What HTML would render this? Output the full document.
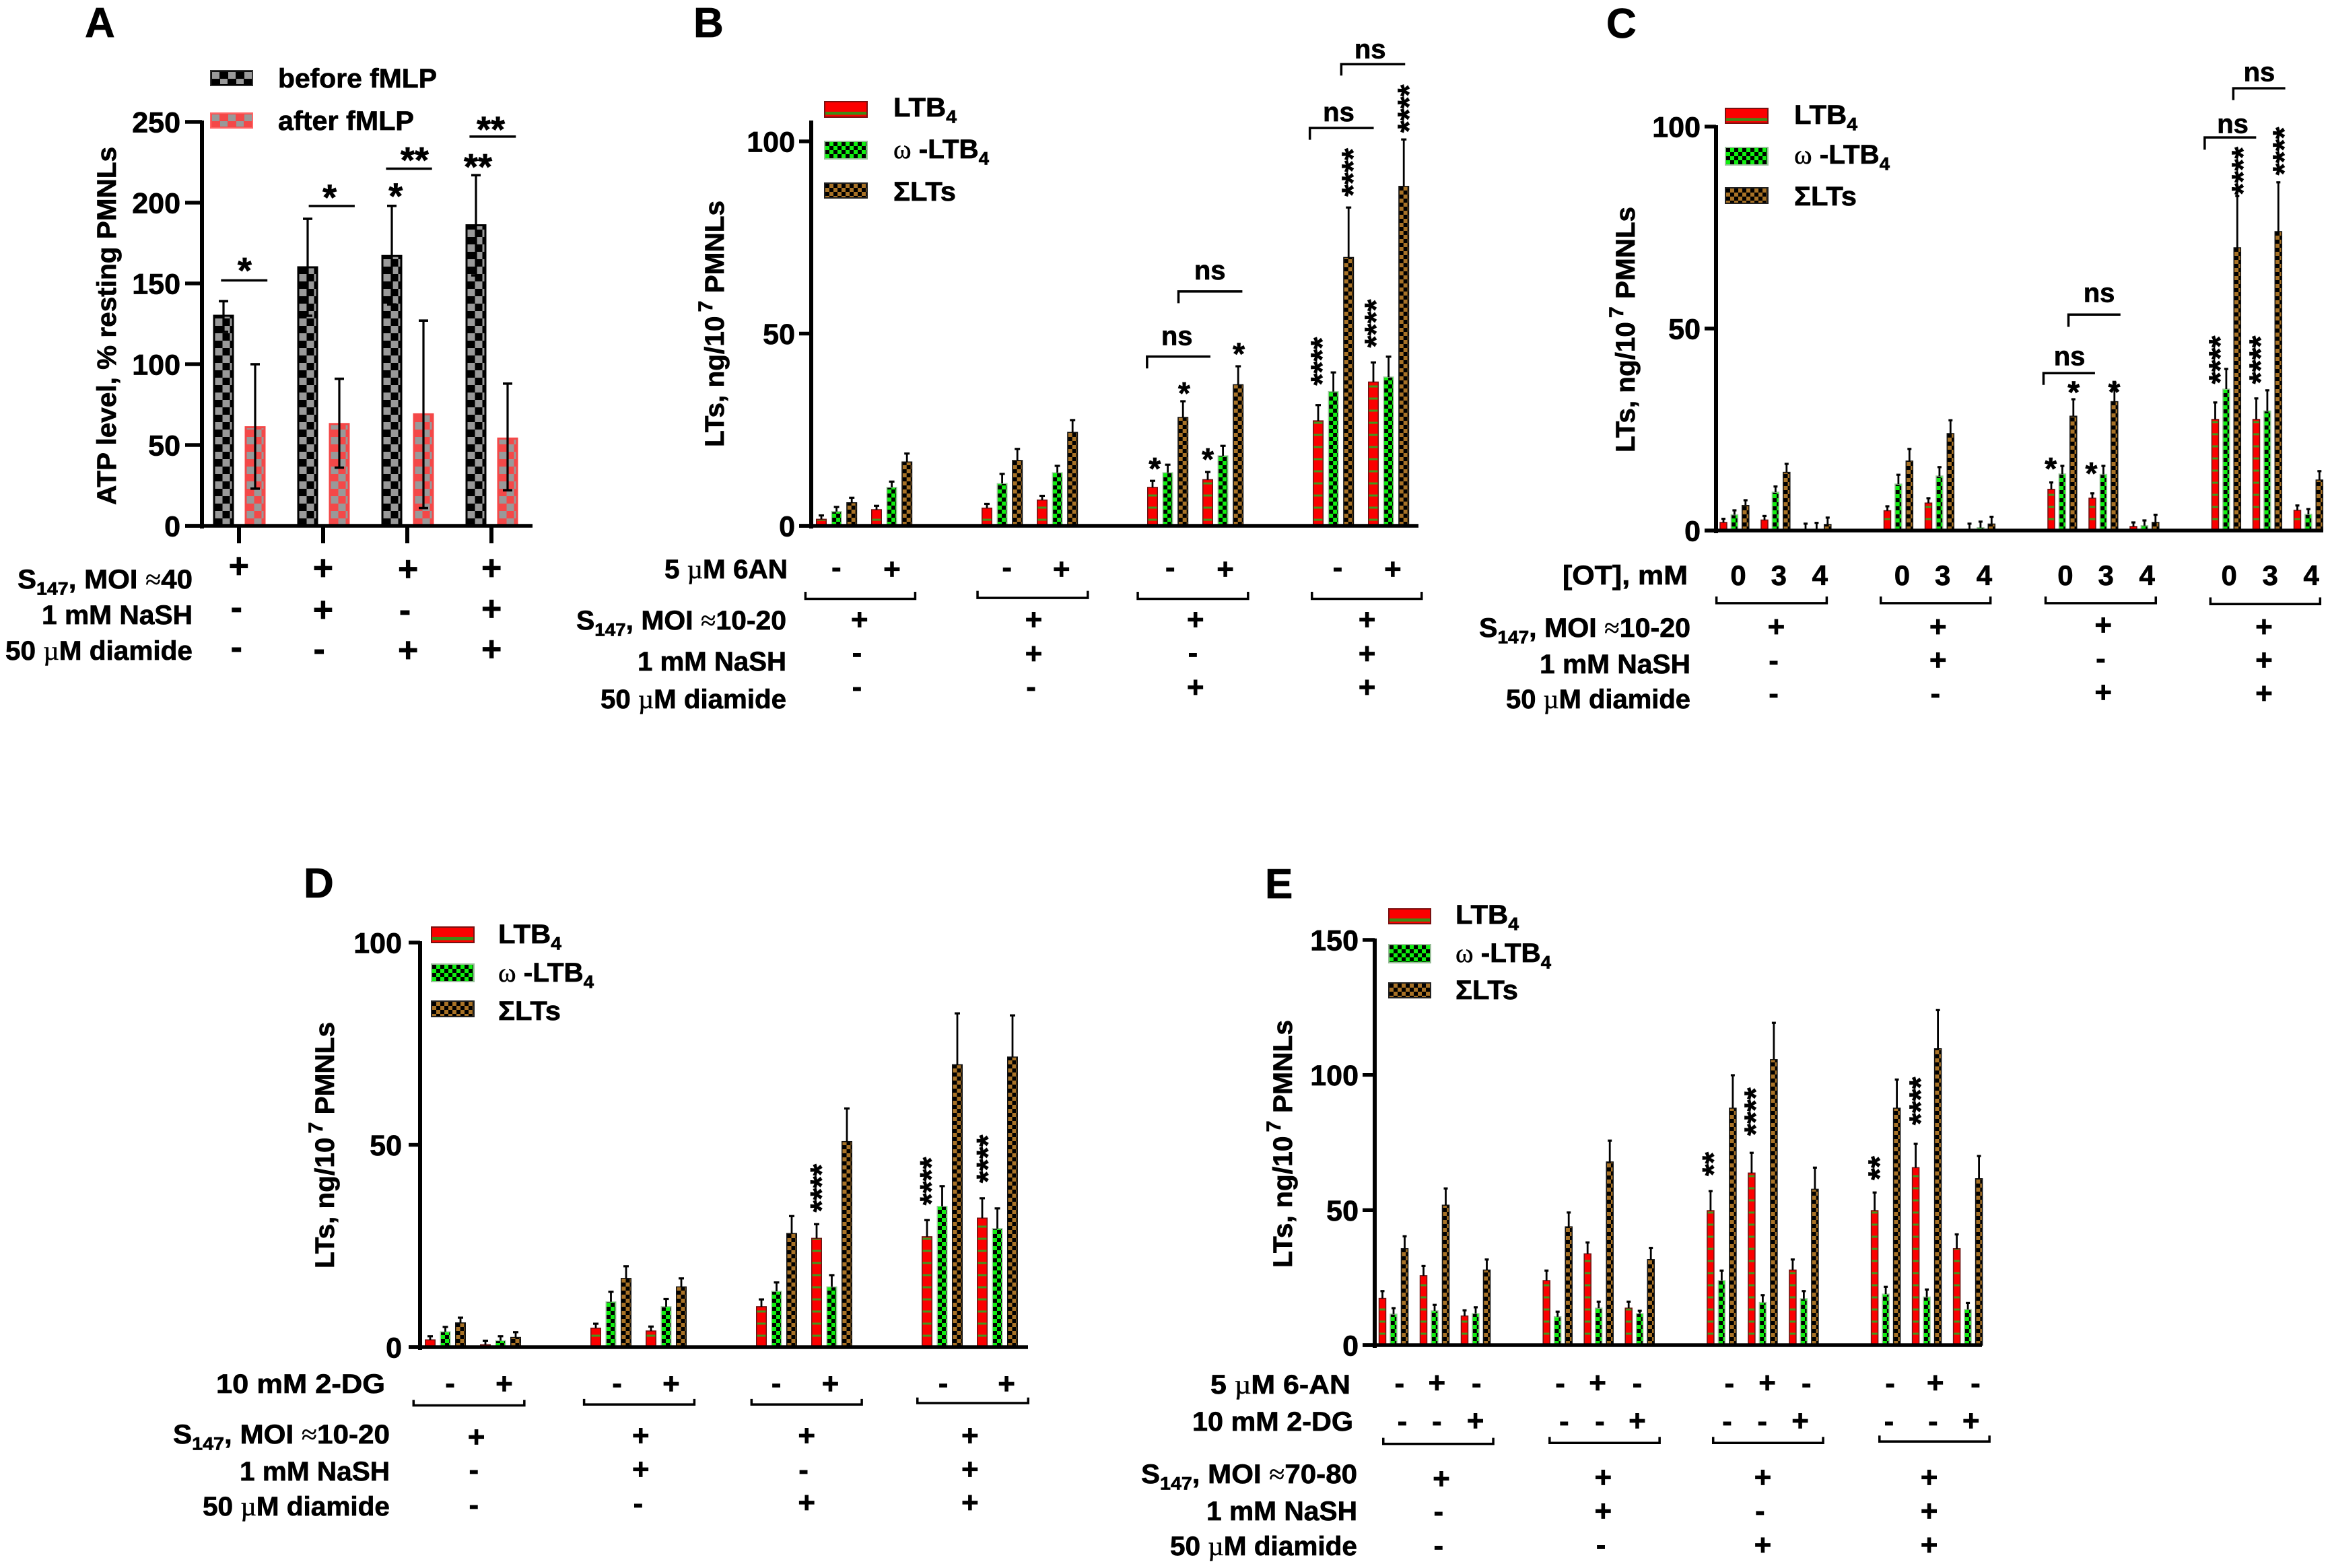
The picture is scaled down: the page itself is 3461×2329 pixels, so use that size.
<!DOCTYPE html>
<html lang="en">
<head>
<meta charset="utf-8">
<title>Leukotriene and ATP levels in PMNLs</title>
<style>
html,body{margin:0;padding:0;background:#fff;}
svg{display:block;}
text{font-family:"Liberation Sans",Arial,sans-serif;font-weight:bold;fill:#000;stroke:#000;stroke-width:0.7px;}
</style>
</head>
<body>
<svg id="figure" xmlns="http://www.w3.org/2000/svg" width="3461" height="2329" viewBox="0 0 3461 2329">
<defs id="figure-defs">
<pattern id="p-before" patternUnits="userSpaceOnUse" width="22" height="22"><rect width="22" height="22" fill="#000"/><rect width="11" height="11" fill="#999"/><rect x="11" y="11" width="11" height="11" fill="#999"/></pattern>
<pattern id="p-after" patternUnits="userSpaceOnUse" width="22" height="22"><rect width="22" height="22" fill="#f44848"/><rect width="11" height="11" fill="#999"/><rect x="11" y="11" width="11" height="11" fill="#999"/></pattern>
<pattern id="l-before" patternUnits="userSpaceOnUse" width="24" height="21" x="315" y="107"><rect width="24" height="21" fill="#000"/><rect width="11" height="10" fill="#999"/><rect x="12" y="10" width="11" height="8" fill="#999"/></pattern>
<pattern id="l-after" patternUnits="userSpaceOnUse" width="24" height="21" x="315" y="170"><rect width="24" height="21" fill="#f44848"/><rect width="11" height="10" fill="#999"/><rect x="12" y="10" width="11" height="8" fill="#999"/></pattern>
<pattern id="p-ltb" patternUnits="userSpaceOnUse" width="18" height="18"><rect width="18" height="18" fill="#fb0000"/><rect y="10" width="18" height="3" fill="#3f9a1c"/></pattern>
<pattern id="p-omega" patternUnits="userSpaceOnUse" width="12" height="12"><rect width="12" height="12" fill="#10f010"/><rect width="6" height="6" fill="#000"/><rect x="6" y="6" width="6" height="6" fill="#000"/></pattern>
<pattern id="p-sum" patternUnits="userSpaceOnUse" width="12" height="12"><rect width="12" height="12" fill="#a87226"/><rect width="6" height="6" fill="#000"/><rect x="6" y="6" width="6" height="6" fill="#000"/></pattern>
</defs>
<rect width="3461" height="2329" fill="#fff"/>
</svg>
<script>
/* ---------- chart data ---------- */
const groupCategories = ['S147', 'S147 + NaSH', 'S147 + diamide', 'S147 + NaSH + diamide'];

const panelATicks = [0, 50, 100, 150, 200, 250];
const panelABefore = [130, 160, 167, 186];
const panelABeforeUpper = [139, 190, 198, 217];
const panelABeforeLower = [120, 130, 137, 155];
const panelAAfter = [61, 63, 69, 54];
const panelAAfterUpper = [100, 91, 127, 88];
const panelAAfterLower = [23, 36, 11, 22];

const panelBTicks = [0, 50, 100];
const panelBLtb = [1.7, 4.2, 4.6, 6.7, 10, 12, 27.3, 37.4];
const panelBOmega = [3.7, 10, 11, 13.8, 13.8, 18.2, 34.9, 38.7];
const panelBSum = [6, 16.6, 17, 24.3, 28.2, 36.7, 69.8, 88.3];
const panelBLtbUpper = [2.7, 5.2, 5.7, 7.8, 11.7, 14, 31.4, 42.5];
const panelBOmegaUpper = [4.9, 11.5, 13.5, 15.6, 15.9, 20.8, 39.9, 44];
const panelBSumUpper = [7.3, 18.8, 20, 27.5, 32.4, 41.5, 82.8, 100.5];

const panelCTicks = [0, 50, 100];
const panelCLtb = [2, 2.6, 0.2, 4.9, 6.8, 0.2, 10.2, 8, 1, 27.5, 27.5, 5];
const panelCOmega = [3.9, 9.5, 0.3, 11.5, 13.5, 0.7, 14, 13.9, 1.2, 35, 29.6, 4];
const panelCSum = [6.2, 14.4, 1.5, 17.2, 24, 1.6, 28.3, 31.9, 2, 70, 74, 12.5];
const panelCLtbUpper = [2.9, 3.6, 1.7, 6, 8, 1.7, 11.9, 9.2, 2, 31.7, 32.7, 6.2];
const panelCOmegaUpper = [5, 10.9, 1.9, 13.8, 15.7, 2.2, 16, 16, 2.5, 40, 34.7, 5.3];
const panelCSumUpper = [7.5, 16.5, 3.2, 20.2, 27.3, 3.4, 32.5, 36.6, 3.9, 82.8, 86.2, 14.7];

const panelDTicks = [0, 50, 100];
const panelDLtb = [1.8, 0.6, 4.7, 4, 10, 26.9, 27.3, 31.9];
const panelDOmega = [3.8, 1.6, 11.2, 10, 13.8, 14.9, 34.8, 29.3];
const panelDSum = [6, 2.4, 17, 14.9, 28.1, 50.8, 69.8, 71.7];
const panelDLtbUpper = [2.7, 1.6, 5.8, 5.1, 11.8, 30.4, 31.4, 36.8];
const panelDOmegaUpper = [5, 2.7, 13.7, 11.9, 16, 17.8, 39.8, 34.3];
const panelDSumUpper = [7.3, 3.7, 20, 17, 32.4, 59, 82.5, 82];

const panelETicks = [0, 50, 100, 150];
const panelELtb = [17.3, 25.7, 10.8, 23.9, 33.8, 13.7, 49.8, 63.7, 27.8, 49.8, 65.7, 35.7];
const panelEOmega = [11.5, 12.7, 11.7, 10.5, 13.7, 11.7, 23.9, 15.8, 17.2, 18.9, 17.8, 13.2];
const panelESum = [35.7, 51.8, 27.8, 43.8, 67.8, 31.7, 87.7, 105.7, 57.7, 87.7, 109.7, 61.6];
const panelELtbUpper = [20, 29.3, 12.9, 27.6, 38, 16.1, 57, 71.2, 31.7, 56.5, 74.5, 41];
const panelEOmegaUpper = [13.7, 14.9, 14, 12.4, 16.1, 12.7, 27.6, 18.5, 20, 21.6, 20.6, 15.6];
const panelESumUpper = [40.3, 58, 31.7, 49.1, 75.7, 36, 99.9, 119.3, 65.7, 98.3, 124, 70];

/* ---------- helpers ---------- */
const svg = document.getElementById('figure');
const defs = document.getElementById('figure-defs');
const NS = 'http://www.w3.org/2000/svg';
let patternCount = 0;

function node(tag, attrs) {
  const el = document.createElementNS(NS, tag);
  for (const k in attrs) el.setAttribute(k, attrs[k]);
  svg.appendChild(el);
  return el;
}
function anchoredFill(baseId, x, y) {
  const clone = document.getElementById(baseId).cloneNode(true);
  patternCount += 1;
  const id = baseId + '-' + patternCount;
  clone.setAttribute('id', id);
  clone.setAttribute('x', x);
  clone.setAttribute('y', y);
  defs.appendChild(clone);
  return 'url(#' + id + ')';
}
function frame(x0, y0, w, h) {
  return { X: v => x0 + v * w / 1568, Y: v => y0 + v * h / 1568 };
}
function segments(el, segs, fs) {
  let shift = 0;
  segs.forEach(s => {
    const str = typeof s === 'string' ? s : s[0];
    const kind = typeof s === 'string' ? '' : s[1];
    const t = document.createElementNS(NS, 'tspan');
    let target = 0;
    if (kind === 'sub') { target = fs * 0.24; t.setAttribute('font-size', fs * 0.68); }
    if (kind === 'sup') { target = -fs * 0.42; t.setAttribute('font-size', fs * 0.75); t.setAttribute('dx', 6); }
    if (kind === 'serif') { t.setAttribute('style', 'font-family:"Liberation Serif",serif;font-weight:normal;stroke-width:0.5px'); }
    if (target !== shift) { t.setAttribute('dy', target - shift); shift = target; }
    t.textContent = str;
    el.appendChild(t);
  });
}
const mu = ['\u00b5', 'serif'];
const approx = ['\u2248', 'serif'];
const rowMoi = r => ['S', ['147', 'sub'], ', MOI ', approx, r];
const rowNash = ['1 mM NaSH'];
const rowDiamide = ['50 ', mu, 'M diamide'];

function rowLabel(segs, left, right, base, fs) {
  const t = node('text', { x: left, y: base, 'font-size': fs || 40, textLength: right - left, lengthAdjust: 'spacingAndGlyphs' });
  
  
  segments(t, segs, fs || 40);
}
function sign(f, ch, zx, zy, scale) {
  const fs = (ch === '+' ? 44 : 44) * (scale || 1);
  const off = ch === '+' ? 0.335 : 0.27;
  const t = node('text', { x: f.X(zx), y: f.Y(zy) + fs * off, 'font-size': fs, 'text-anchor': 'middle' });
  
  
  t.textContent = ch;
}
function signRow(f, entries, scale) {
  entries.forEach(e => sign(f, e[0], e[1], e[2], scale));
}
function digit(f, ch, zx, zy) {
  const t = node('text', { x: f.X(zx), y: f.Y(zy) + 15, 'font-size': 42, 'text-anchor': 'middle' });
  
  
  t.textContent = ch;
}
function groupBracket(f, a, b, yb, yt) {
  const p = node('path', { d: `M${f.X(a)} ${f.Y(yt)}V${f.Y(yb)}H${f.X(b)}V${f.Y(yt)}`, fill: 'none', stroke: '#000', 'stroke-width': 3.5 });
  
  
}
function nsBracket(f, x1, yb, yt, x2, tx, ty) {
  const p = node('path', { d: `M${f.X(x1)} ${f.Y(yb)}V${f.Y(yt)}H${f.X(x2)}`, fill: 'none', stroke: '#000', 'stroke-width': 3.5 });
  
  
  const t = node('text', { x: f.X(tx), y: f.Y(ty) + 13, 'font-size': 40, 'text-anchor': 'middle' });
  
  
  t.textContent = 'ns';
}
function stars(f, str, zx, zy, vertical, fs) {
  const size = fs || 46;
  const x = f.X(zx), y = f.Y(zy);
  const attrs = { 'font-size': size, 'text-anchor': 'middle' };
  if (vertical) {
    attrs.transform = `translate(${x + size * 0.5},${y}) rotate(-90)`;
    attrs.x = 0; attrs.y = 0;
  } else {
    attrs.x = x; attrs.y = y + size * 0.46;
  }
  const t = node('text', attrs);
  
  
  t.textContent = str;
}
function sigLine(f, a, b, zy) {
  const l = node('line', { x1: f.X(a), x2: f.X(b), y1: f.Y(zy), y2: f.Y(zy), stroke: '#000', 'stroke-width': 3.5 });
  
  
}
function panelLetter(ch, x, base) {
  const t = node('text', { x: x, y: base, 'font-size': 62 });
  
  
  t.textContent = ch;
}
function yTitle(segs, x, top, bottom) {
  const t = node('text', { x: 0, y: 0, transform: `translate(${x},${bottom}) rotate(-90)`, 'font-size': 40, textLength: bottom - top, lengthAdjust: 'spacingAndGlyphs' });
  
  
  segments(t, segs, 40);
}
const ltTitle = ['LTs, ng/10', ['7', 'sup'], ' PMNLs'];

function axes(cfg) {
  const yAt = v => cfg.y0 - v * (cfg.y0 - cfg.yMaxPx) / cfg.yMax;
  const ya = node('line', { x1: cfg.ax, x2: cfg.ax, y1: cfg.axisTop, y2: cfg.y0 + 4, stroke: '#000', 'stroke-width': 6 });
  
  
  const xa = node('line', { x1: cfg.tickLeft, x2: cfg.axisRight, y1: cfg.y0, y2: cfg.y0, stroke: '#000', 'stroke-width': 5.4 });
  
  
  cfg.ticks.forEach(v => {
    const y = yAt(v);
    const tk = node('line', { x1: cfg.tickLeft, x2: cfg.ax, y1: y, y2: y, stroke: '#000', 'stroke-width': 5.4 });
    
    
    const tl = node('text', { x: cfg.tickText, y: y + 15.5, 'font-size': 43, 'text-anchor': 'end' });
    
    
    tl.textContent = v;
  });
}
function drawSeries(cfg, key, patternId, stroke, k, values, upper, lower) {
  const yAt = v => cfg.y0 - v * (cfg.y0 - cfg.yMaxPx) / cfg.yMax;
  const subs = cfg.subs;
  const sw = cfg.sw;
  values.forEach((v, i) => {
    const g = Math.floor(i / subs), s = i % subs;
    const c = cfg.start + g * cfg.period + s * cfg.sub + k * cfg.inner;
    const top = yAt(v);
    const left = c - cfg.bw / 2;
    const anchorY = patternId === 'p-ltb' ? cfg.y0 - cfg.stripe - 11.5 : cfg.y0;
    const fill = anchoredFill(patternId, left + sw, anchorY);
    const bar = node('rect', { x: left + sw / 2, y: top, width: cfg.bw - sw, height: Math.max(0, cfg.y0 - top), fill: fill, stroke: stroke, 'stroke-width': sw });
    
    
    const yu = yAt(upper[i]);
    const yl = lower ? yAt(lower[i]) : top;
    const whisk = node('line', { x1: c, x2: c, y1: yu, y2: yl, stroke: '#000', 'stroke-width': cfg.ew });
    
    
    const cap = node('line', { x1: c - cfg.cap / 2, x2: c + cfg.cap / 2, y1: yu, y2: yu, stroke: '#000', 'stroke-width': cfg.ew + 0.4 });
    
    
    if (lower) {
      const capLow = node('line', { x1: c - cfg.cap / 2, x2: c + cfg.cap / 2, y1: yl, y2: yl, stroke: '#000', 'stroke-width': cfg.ew + 0.4 });
      
      
    }
  });
}
function swatch(x, y, w, h, fill, stroke) {
  const r = node('rect', { x: x, y: y, width: w, height: h, fill: fill, stroke: stroke, 'stroke-width': 2 });
  
  
}
function ltLegend(sx, sw, tx, rows) {
  swatch(sx, rows[0][0], sw, rows[0][1], '#fb0000', '#7a1010');
  const band = node('rect', { x: sx + 1, y: rows[0][0] + rows[0][1] * 0.65, width: sw - 2, height: 4.5, fill: '#3f8a14' });
  
  
  swatch(sx, rows[1][0], sw, rows[1][1], anchoredFill('p-omega', sx + 1, rows[1][0] + 1), '#9abf9a');
  swatch(sx, rows[2][0], sw, rows[2][1], anchoredFill('p-sum', sx + 1, rows[2][0] + 1), '#222');
  const entries = [['LTB', ['4', 'sub']], [['\u03c9', 'serif'], ' -LTB', ['4', 'sub']], ['\u03a3LTs']];
  const widths = [94, 142, 93];
  entries.forEach((segs, i) => {
    const t = node('text', { x: tx, y: rows[i][2], 'font-size': 40, textLength: widths[i], lengthAdjust: 'spacingAndGlyphs' });
    
    
    segments(t, segs, 40);
  });
}

/* ---------- Panel A ---------- */
(function () {
  const f = frame(0, 0, 900, 1050);
  const cfg = { ax: 300, y0: 781, yMaxPx: 181, yMax: 250, axisTop: 179, tickLeft: 275, axisRight: 791, tickText: 268, ticks: panelATicks, start: 332, period: 125, sub: 0, subs: 1, inner: 47, bw: 31, sw: 3, ew: 3.2, cap: 14, stripe: 0 };
  panelLetter('A', 126, 55);
  drawSeries(cfg, 'before-fmlp', 'p-before', '#000', 0, panelABefore, panelABeforeUpper, panelABeforeLower);
  drawSeries(cfg, 'after-fmlp', 'p-after', '#f44848', 1, panelAAfter, panelAAfterUpper, panelAAfterLower);
  axes(cfg);
  [355, 480, 605, 730].forEach(x => {
    const t = node('line', { x1: x, x2: x, y1: 781, y2: 807, stroke: '#000', 'stroke-width': 6 });
    
    
  });
  yTitle(['ATP level, % resting PMNLs'], 172, 218, 750);
  swatch(313, 105, 62, 22, 'url(#l-before)', '#333');
  swatch(313, 168, 62, 22, 'url(#l-after)', '#f66');
  const l1 = node('text', { x: 413, y: 130, 'font-size': 40, textLength: 236, lengthAdjust: 'spacingAndGlyphs' });
  
  
  l1.textContent = 'before fMLP';
  const l2 = node('text', { x: 413, y: 193, 'font-size': 40, textLength: 202, lengthAdjust: 'spacingAndGlyphs' });
  
  
  l2.textContent = 'after fMLP';
  rowLabel(rowMoi('40'), 26, 286, 874);
  rowLabel(rowNash, 62, 286, 927);
  rowLabel(rowDiamide, 8, 286, 980);
  signRow(f, [['+', 618, 1255], ['+', 836, 1260], ['+', 1056, 1262], ['+', 1272, 1260],
    ['-', 612, 1352], ['+', 836, 1352], ['-', 1048, 1358], ['+', 1272, 1350],
    ['-', 612, 1440], ['-', 826, 1445], ['+', 1056, 1442], ['+', 1272, 1440]], 1.18);
  sigLine(f, 572, 692, 622); stars(f, '*', 633, 590, false, 54);
  sigLine(f, 799, 918, 457); stars(f, '*', 853, 428, false, 54);
  sigLine(f, 999, 1118, 374); stars(f, '**', 1073, 345, false, 54);
  sigLine(f, 1215, 1335, 303); stars(f, '**', 1270, 277, false, 54);
  stars(f, '*', 1024, 425, false, 54);
  stars(f, '**', 1237, 360, false, 54);
})();

/* ---------- Panel B ---------- */
(function () {
  const f = frame(950, 0, 1200, 1100);
  const cfg = { ax: 1205, y0: 781, yMaxPx: 210, yMax: 100, axisTop: 179, tickLeft: 1187, axisRight: 2107, tickText: 1181, ticks: panelBTicks, start: 1220, period: 246, sub: 82, subs: 2, inner: 22.6, bw: 16, sw: 1.5, ew: 2.8, cap: 8, stripe: 9 };
  panelLetter('B', 1030, 55);
  drawSeries(cfg, 'ltb4', 'p-ltb', '#6b1212', 0, panelBLtb, panelBLtbUpper);
  drawSeries(cfg, 'omega-ltb4', 'p-omega', '#9fc79f', 1, panelBOmega, panelBOmegaUpper);
  drawSeries(cfg, 'sum-lts', 'p-sum', '#111', 2, panelBSum, panelBSumUpper);
  axes(cfg);
  yTitle(ltTitle, 1075, 298, 664);
  ltLegend(1225, 63, 1327, [[151, 23, 173], [210, 26, 235], [272, 22, 298]]);
  rowLabel(['5 ', mu, 'M 6AN'], 987, 1170, 859);
  rowLabel(rowMoi('10-20'), 856, 1168, 935);
  rowLabel(rowNash, 947, 1168, 996);
  rowLabel(rowDiamide, 892, 1168, 1052);
  signRow(f, [['-', 382, 1205], ['+', 490, 1205], ['-', 713, 1205], ['+', 819, 1205], ['-', 1030, 1205], ['+', 1137, 1205], ['-', 1355, 1205], ['+', 1462, 1205],
    ['+', 427, 1312], ['+', 765, 1312], ['+', 1079, 1312], ['+', 1412, 1312],
    ['-', 422, 1386], ['+', 765, 1384], ['-', 1074, 1386], ['+', 1412, 1384],
    ['-', 422, 1458], ['-', 760, 1458], ['+', 1079, 1455], ['+', 1412, 1455]]);
  groupBracket(f, 322, 535, 1268, 1253);
  groupBracket(f, 656, 870, 1266, 1251);
  groupBracket(f, 967, 1181, 1268, 1253);
  groupBracket(f, 1305, 1518, 1268, 1253);
  stars(f, '*', 1000, 985); stars(f, '*', 1057, 825); stars(f, '*', 1103, 965); stars(f, '*', 1163, 742);
  stars(f, '****', 1375, 365, true); stars(f, '****', 1484, 230, true); stars(f, '****', 1315, 765, true); stars(f, '****', 1420, 685, true);
  nsBracket(f, 985, 780, 755, 1108, 1043, 712);
  nsBracket(f, 1046, 642, 617, 1170, 1107, 573);
  nsBracket(f, 1301, 296, 271, 1425, 1357, 238);
  nsBracket(f, 1362, 160, 136, 1486, 1418, 105);
})();

/* ---------- Panel C ---------- */
(function () {
  const f = frame(2250, 0, 1211, 1100);
  const cfg = { ax: 2549, y0: 788, yMaxPx: 188, yMax: 100, axisTop: 186, tickLeft: 2532, axisRight: 3451, tickText: 2526, ticks: panelCTicks, start: 2560, period: 243.5, sub: 61, subs: 3, inner: 16.4, bw: 11.5, sw: 1.5, ew: 2.8, cap: 6, stripe: 17 };
  panelLetter('C', 2386, 56);
  drawSeries(cfg, 'ltb4', 'p-ltb', '#6b1212', 0, panelCLtb, panelCLtbUpper);
  drawSeries(cfg, 'omega-ltb4', 'p-omega', '#9fc79f', 1, panelCOmega, panelCOmegaUpper);
  drawSeries(cfg, 'sum-lts', 'p-sum', '#111', 2, panelCSum, panelCSumUpper);
  axes(cfg);
  yTitle(ltTitle, 2428, 307, 672);
  ltLegend(2563, 63, 2665, [[161, 22, 184], [219, 26, 243], [279, 23, 305]]);
  rowLabel(['[OT], mM'], 2321, 2507, 868);
  rowLabel(rowMoi('10-20'), 2197, 2511, 946);
  rowLabel(rowNash, 2287, 2511, 1000);
  rowLabel(rowDiamide, 2237, 2511, 1052);
  [[430, 508, 587], [745, 823, 903], [1059, 1137, 1216], [1374, 1453, 1532]].forEach(xs => {
    digit(f, '0', xs[0], 1217);
    digit(f, '3', xs[1], 1217);
    digit(f, '4', xs[2], 1217);
  });
  groupBracket(f, 388, 600, 1277, 1263);
  groupBracket(f, 704, 915, 1277, 1263);
  groupBracket(f, 1021, 1233, 1277, 1263);
  groupBracket(f, 1338, 1549, 1279, 1265);
  signRow(f, [['+', 503, 1327], ['+', 814, 1327], ['+', 1132, 1323], ['+', 1441, 1327],
    ['-', 498, 1402], ['+', 814, 1397], ['-', 1127, 1398], ['+', 1441, 1397],
    ['-', 498, 1472], ['-', 809, 1472], ['+', 1132, 1466], ['+', 1441, 1468]]);
  stars(f, '*', 1031, 985); stars(f, '*', 1075, 823); stars(f, '*', 1109, 995); stars(f, '*', 1153, 822);
  stars(f, '****', 1391, 362, true); stars(f, '****', 1470, 320, true); stars(f, '****', 1347, 762, true); stars(f, '****', 1425, 762, true);
  nsBracket(f, 1017, 815, 790, 1116, 1067, 755);
  nsBracket(f, 1065, 692, 666, 1165, 1124, 621);
  nsBracket(f, 1327, 317, 291, 1426, 1381, 263);
  nsBracket(f, 1382, 212, 187, 1482, 1432, 153);
})();

/* ---------- Panel D ---------- */
(function () {
  const f = frame(400, 1250, 1200, 1079);
  const cfg = { ax: 624, y0: 2001, yMaxPx: 1400, yMax: 100, axisTop: 1398, tickLeft: 607, axisRight: 1527, tickText: 597, ticks: panelDTicks, start: 639, period: 246, sub: 82, subs: 2, inner: 22.5, bw: 16, sw: 1.5, ew: 2.8, cap: 8, stripe: 17 };
  panelLetter('D', 451, 1333);
  drawSeries(cfg, 'ltb4', 'p-ltb', '#6b1212', 0, panelDLtb, panelDLtbUpper);
  drawSeries(cfg, 'omega-ltb4', 'p-omega', '#9fc79f', 1, panelDOmega, panelDOmegaUpper);
  drawSeries(cfg, 'sum-lts', 'p-sum', '#111', 2, panelDSum, panelDSumUpper);
  axes(cfg);
  yTitle(ltTitle, 496, 1518, 1884);
  ltLegend(641, 63, 740, [[1377, 23, 1401], [1432, 26, 1458], [1487, 23, 1515]]);
  rowLabel(['10 mM 2-DG'], 321, 572, 2069);
  rowLabel(rowMoi('10-20'), 257, 579, 2144);
  rowLabel(rowNash, 356, 579, 2199);
  rowLabel(rowDiamide, 301, 579, 2251);
  signRow(f, [['-', 351, 1173], ['+', 456, 1170], ['-', 675, 1173], ['+', 780, 1170], ['-', 984, 1173], ['+', 1089, 1170], ['-', 1308, 1173], ['+', 1431, 1170],
    ['+', 402, 1285], ['+', 721, 1282], ['+', 1043, 1282], ['+', 1360, 1282],
    ['-', 397, 1360], ['+', 721, 1355], ['-', 1037, 1360], ['+', 1360, 1355],
    ['-', 397, 1435], ['-', 716, 1432], ['+', 1043, 1427], ['+', 1360, 1427]]);
  groupBracket(f, 280, 495, 1217, 1205);
  groupBracket(f, 611, 825, 1215, 1203);
  groupBracket(f, 936, 1150, 1215, 1203);
  groupBracket(f, 1258, 1473, 1212, 1200);
  stars(f, '****', 1062, 748, true); stars(f, '****', 1275, 733, true); stars(f, '****', 1385, 685, true);
})();

/* ---------- Panel E ---------- */
(function () {
  const f = frame(1680, 1250, 1300, 1079);
  const cfg = { ax: 2042, y0: 1998, yMaxPx: 1396, yMax: 150, axisTop: 1394, tickLeft: 2024, axisRight: 2944, tickText: 2018, ticks: panelETicks, start: 2053.5, period: 243.7, sub: 61, subs: 3, inner: 16.5, bw: 11.5, sw: 1.5, ew: 2.8, cap: 6, stripe: 17 };
  panelLetter('E', 1879, 1334);
  drawSeries(cfg, 'ltb4', 'p-ltb', '#6b1212', 0, panelELtb, panelELtbUpper);
  drawSeries(cfg, 'omega-ltb4', 'p-omega', '#9fc79f', 1, panelEOmega, panelEOmegaUpper);
  drawSeries(cfg, 'sum-lts', 'p-sum', '#111', 2, panelESum, panelESumUpper);
  axes(cfg);
  yTitle(ltTitle, 1919, 1515, 1883);
  ltLegend(2063, 62, 2162, [[1350, 22, 1372], [1403, 27, 1429], [1460, 22, 1484]]);
  rowLabel(['5 ', mu, 'M 6-AN'], 1798, 2006, 2070);
  rowLabel(['10 mM 2-DG'], 1771, 2010, 2125);
  rowLabel(rowMoi('70-80'), 1695, 2016, 2203);
  rowLabel(rowNash, 1792, 2016, 2258);
  rowLabel(rowDiamide, 1738, 2016, 2310);
  signRow(f, [['-', 481, 1173], ['+', 548, 1168], ['-', 619, 1173], ['-', 769, 1173], ['+', 836, 1168], ['-', 907, 1173],
    ['-', 1072, 1173], ['+', 1140, 1168], ['-', 1210, 1173], ['-', 1360, 1173], ['+', 1441, 1168], ['-', 1513, 1173],
    ['-', 486, 1255], ['-', 548, 1255], ['+', 617, 1250], ['-', 776, 1255], ['-', 840, 1255], ['+', 907, 1250],
    ['-', 1068, 1255], ['-', 1131, 1255], ['+', 1199, 1250], ['-', 1358, 1255], ['-', 1437, 1255], ['+', 1505, 1250],
    ['+', 556, 1375], ['+', 846, 1372], ['+', 1132, 1372], ['+', 1430, 1372],
    ['-', 551, 1450], ['+', 846, 1445], ['-', 1127, 1448], ['+', 1430, 1445],
    ['-', 551, 1523], ['-', 842, 1522], ['+', 1132, 1518], ['+', 1430, 1518]]);
  groupBracket(f, 452, 649, 1300, 1287);
  groupBracket(f, 750, 947, 1298, 1285);
  groupBracket(f, 1043, 1240, 1298, 1285);
  groupBracket(f, 1341, 1538, 1295, 1282);
  stars(f, '**', 1035, 696, true); stars(f, '**', 1332, 705, true);
  stars(f, '****', 1110, 583, true); stars(f, '****', 1406, 560, true);
})();
</script>
</body>
</html>
